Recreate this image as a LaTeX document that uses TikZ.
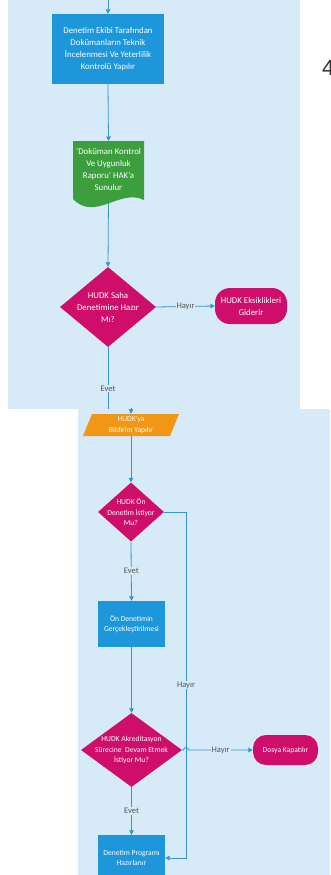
\documentclass[tikz,border=0pt]{standalone}
\usepackage{fontspec}
\setmainfont{Carlito}
\newfontfamily\numfont{Liberation Sans}
\usetikzlibrary{shapes.geometric,arrows.meta}
\definecolor{panelbg}{RGB}{214,234,248}
\definecolor{procblue}{RGB}{30,150,218}
\definecolor{docgreen}{RGB}{60,158,60}
\definecolor{decmag}{RGB}{206,14,106}
\definecolor{ioorange}{RGB}{242,150,22}
\definecolor{linkblue}{RGB}{52,150,204}
\definecolor{labelgray}{RGB}{85,85,85}
\pgfdeclarelayer{back}
\pgfdeclarelayer{links}
\pgfsetlayers{back,links,main}
\begin{document}
\begin{tikzpicture}[x=1pt,y=-1pt,
  bigtxt/.style={font=\fontsize{8.8}{12}\selectfont, text=white, align=center, inner sep=0pt},
  smalltxt/.style={font=\fontsize{7.6}{10.5}\selectfont, text=white, align=center, inner sep=0pt},
  procbox/.style={fill=procblue, draw=none, rectangle, inner sep=0pt},
  decision/.style={fill=decmag, shape=diamond, inner sep=0pt},
  terminal/.style={fill=decmag, rectangle, inner sep=0pt},
  link/.style={draw=linkblue, line width=0.8pt},
  arr/.style={-{Triangle[width=4.5pt,length=4.5pt]}},
  lbl/.style={font=\fontsize{8.5}{10}\selectfont, text=labelgray, fill=panelbg, inner sep=1pt},
]
\useasboundingbox (0,0) rectangle (330,875);
\clip (0,0) rectangle (330,875);

% panels
\begin{pgfonlayer}{back}
\fill[panelbg] (8,0) rectangle (300,409);
\fill[panelbg] (78,409) rectangle (330,875);
\end{pgfonlayer}

% page number fragment
\node[font=\numfont\fontsize{22}{22}\selectfont, text=black!80, anchor=base west, inner sep=0pt] (pgnum) at (322,75) {4};

% shapes
\node[procbox, minimum width=112pt, minimum height=70pt, bigtxt] (b1) at (108,49)
  {Denetim Ekibi Tarafından\\Dokümanların Teknik\\İncelenmesi Ve Yeterlilik\\Kontrolü Yapılır};

\fill[docgreen] (73,141) -- (144,141) -- (144,200) .. controls (120,188) and (95,222) .. (73,199) -- cycle;
\node[bigtxt, minimum width=71pt, minimum height=56pt] (doc) at (108.5,169)
  {'Doküman Kontrol\\Ve Uygunluk\\Raporu' HAK'a\\Sunulur};

\node[decision, minimum width=96pt, minimum height=80pt] (d1) at (108,307) {};
\node[bigtxt] (d1t) at (108,307) {HUDK Saha\\Denetimine Hazır\\Mı?};

\node[terminal, rounded corners=15pt, minimum width=72pt, minimum height=36pt, bigtxt] (t1) at (251,306)
  {HUDK Eksiklikleri\\Giderir};

\fill[ioorange] (83,436) -- (92,414) -- (179,414) -- (170,436) -- cycle;
\node[smalltxt, minimum width=88pt, minimum height=22pt] (par) at (131,425) {HUDK'ya\\Bildirim Yapılır};

\node[decision, minimum width=66pt, minimum height=59pt] (d2) at (131,512) {};
\node[smalltxt] (d2t) at (131,512) {HUDK Ön\\Denetim İstiyor\\Mu?};

\node[procbox, minimum width=67pt, minimum height=46pt, smalltxt] (b2) at (131.5,624)
  {Ön Denetimin\\Gerçekleştirilmesi};

\node[decision, minimum width=101pt, minimum height=74pt] (d3) at (131.5,750) {};
\node[smalltxt] (d3t) at (131.5,750) {HUDK Akreditasyon\\Sürecine~ Devam Etmek\\İstiyor Mu?};

\node[terminal, rounded corners=13pt, minimum width=65pt, minimum height=30pt, smalltxt] (t2) at (285.5,750)
  {Dosya Kapatılır};

\node[procbox, minimum width=67pt, minimum height=46pt, smalltxt] (b3) at (131.5,858)
  {Denetim Programı\\Hazırlanır};

% connectors
\begin{pgfonlayer}{links}
\coordinate (topin) at (108,-3);
\coordinate (topcut) at (108,409);
\coordinate (botin) at (131,408);
\coordinate (r2a) at (186,512);
\coordinate (r2b) at (186,858);
\coordinate (hopa) at (183.5,750);
\coordinate (hopb) at (188.5,750);

\draw[link,arr] (topin) -- (b1.north);
\draw[link,arr] (b1.south) -- (doc.south |- 141,141);
\draw[link,arr] (doc.south) -- (d1.north);
\draw[link,arr] (d1.east) -- node[lbl] (lh1) {Hayır} (t1.west);
\draw[link] (d1.south) -- node[lbl, pos=0.67] (le1) {Evet} (topcut);
\draw[link,arr] (botin) -- (par.north);
\draw[link,arr] (par.south) -- (d2.north);
\draw[link,arr] (d2.south) -- node[lbl, pos=0.5] (le2) {Evet} (b2.north);
\draw[link,arr] (d2.east) -- (r2a) -- node[lbl] (lh2) {Hayır} (r2b) -- (b3.east);
\draw[link,arr] (b2.south) -- (d3.north);
\draw[link,arr] (d3.east) -- (hopa) arc[start angle=180, end angle=0, radius=2.5pt] -- node[lbl] (lh3) {Hayır} (t2.west);
\draw[link,arr] (d3.south) -- node[lbl] (le3) {Evet} (b3.north);
\end{pgfonlayer}
\end{tikzpicture}
\end{document}
